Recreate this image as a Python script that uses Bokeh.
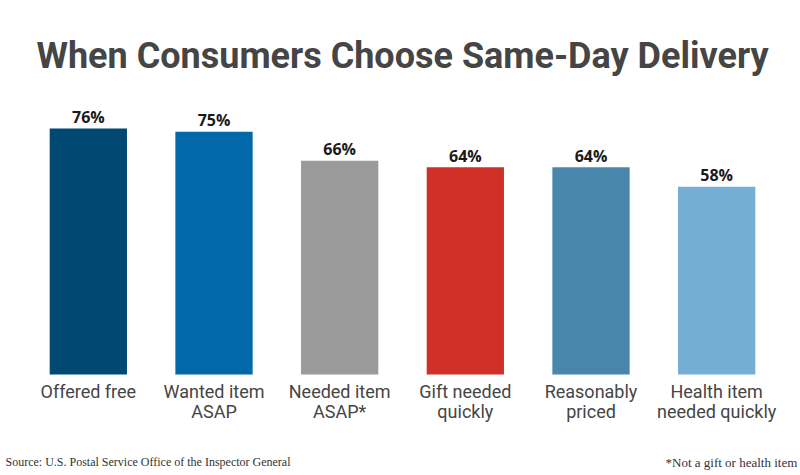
from bokeh.plotting import figure
from bokeh.models import ColumnDataSource, FactorRange, Range1d, Label
from bokeh.core.properties import value
from bokeh.embed import file_html
from bokeh.resources import INLINE

categories = ["Offered free", "Wanted item\nASAP", "Needed item\nASAP*",
              "Gift needed\nquickly", "Reasonably\npriced", "Health item\nneeded quickly"]
values = [76, 75, 66, 64, 64, 58]
value_labels = ["76%", "75%", "66%", "64%", "64%", "58%"]
colors = ["#014873", "#0168aa", "#9b9b9b", "#d03028", "#4886ac", "#74aed3"]

title_text = "When Consumers Choose Same-Day Delivery"
source_text = "Source: U.S. Postal Service Office of the Inspector General"
note_text = "*Not a gift or health item"

# layout (pixels)
W, H = 800, 475
L = 4                      # frame left border
pad_px = 21                # padding on each side of the categories
base_px = 374              # pixel row of the bars' base
px_per_unit = 246 / 76.0   # vertical scale
n = len(categories)
spacing = (W - L - 2 * pad_px) / n
pad_syn = pad_px / spacing

y_start = -(H - base_px) / px_per_unit
y_end = base_px / px_per_unit

def sx(px):
    return (px - L) / spacing - pad_syn

def sy(py):
    return (base_px - py) / px_per_unit

xr = FactorRange(*categories, range_padding=pad_syn, range_padding_units="absolute")
p = figure(width=W, height=H, x_range=xr, y_range=Range1d(y_start, y_end),
           output_backend="svg", toolbar_location=None,
           min_border_left=L, min_border_right=0, min_border_top=0, min_border_bottom=0)
p.outline_line_color = None
p.grid.visible = False
p.axis.visible = False
p.background_fill_color = "white"
p.border_fill_color = "white"

src = ColumnDataSource(dict(cat=categories, val=values, lab=value_labels, col=colors))
p.vbar(x="cat", top="val", width=0.615, color="col", source=src, line_color=None)

# value labels above bars
p.text(x="cat", y="val", text="lab", source=src, y_offset=-11.5,
       text_align="center", text_baseline="middle",
       text_font=value("Open Sans"), text_font_style="bold",
       text_font_size="16px", text_color="#1a1a1a")

# category labels below bars
p.text(x="cat", y=sy(380.5), text="cat", source=src,
       text_align="center", text_baseline="top", text_line_height=0.97,
       text_font=value("Roboto"), text_font_size="18px", text_color="#454545")

p.add_layout(Label(x=sx(402), y=sy(55.5), text=title_text, text_align="center",
                   text_baseline="middle", text_font="Roboto", text_font_style="bold",
                   text_font_size="36px", text_color="#454545"))
p.add_layout(Label(x=sx(5), y=sy(461.9), text=source_text, text_align="left",
                   text_baseline="middle", text_font="Liberation Serif",
                   text_font_size="12px", text_color="#333333"))
p.add_layout(Label(x=sx(665), y=sy(461.6), text=note_text, text_align="left",
                   text_baseline="middle", text_font="Liberation Serif",
                   text_font_size="13px", text_color="#333333"))

open("out.html", "w").write(file_html(p, INLINE))
